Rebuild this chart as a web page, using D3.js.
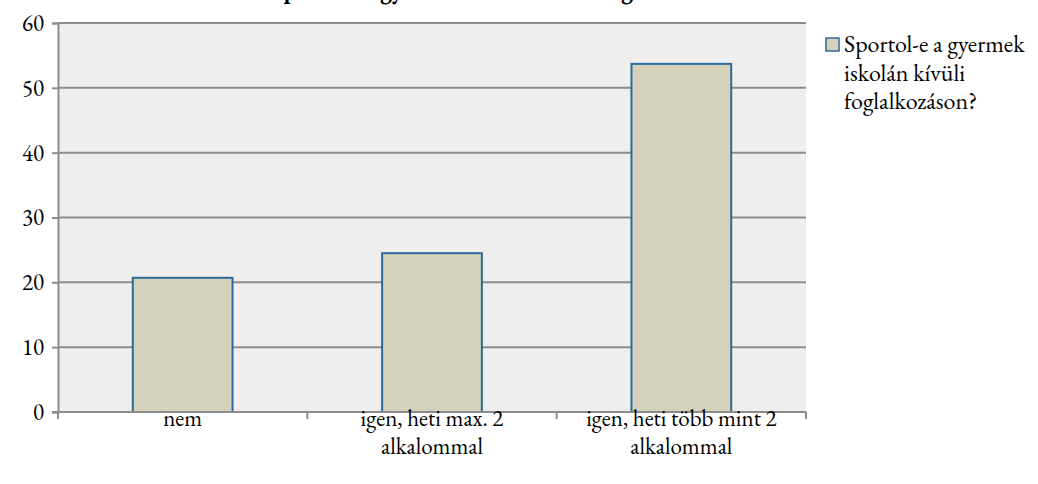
<!DOCTYPE html>
<html>
<head>
<meta charset="utf-8">
<script src="https://cdn.jsdelivr.net/npm/d3@7"></script>
<style>
  body { margin: 0; background: #fff; }
</style>
</head>
<body>
<div class="chart"></div>
<script>
// data
var categories = ["nem", "igen, heti max. 2|alkalommal", "igen, heti több mint 2|alkalommal"];
var values = [20.7, 24.5, 53.7];
var yTicks = [0, 10, 20, 30, 40, 50, 60];
var seriesName = ["Sportol-e a gyermek", "iskolán kívüli", "foglalkozáson?"];
var title = "Sportol-e a gyermek iskolán kívüli foglalkozáson?";

var width = 1038,
    height = 484;

var font = "'EB Garamond', 'Liberation Serif', serif";
var plot = { left: 58, right: 806, top: 23, bottom: 412 };

var svg = d3.select(".chart").append("svg")
  .attr("width", width)
  .attr("height", height);

var x = d3.scaleBand()
  .domain(categories)
  .range([plot.left, plot.right])
  .paddingInner(0.6)
  .paddingOuter(0.3);

var y = d3.scaleLinear()
  .domain([0, 60])
  .range([plot.bottom, plot.top]);

// title, mostly cut off at the top edge (as in the source)
svg.append("text")
  .attr("x", 272)
  .attr("y", -3)
  .attr("textLength", 470)
  .style("font-family", font)
  .style("font-size", "24px")
  .style("font-weight", "bold")
  .text(title);

// plot background
svg.append("rect")
  .attr("x", plot.left)
  .attr("y", plot.top)
  .attr("width", plot.right - plot.left)
  .attr("height", plot.bottom - plot.top)
  .style("fill", "#eeeeee");

// gridlines
svg.selectAll("line.grid")
  .data(yTicks.filter(function(d) { return d > 0; }))
  .enter()
  .append("line")
  .attr("class", "grid")
  .attr("x1", plot.left)
  .attr("x2", plot.right)
  .attr("y1", function(d) { return y(d); })
  .attr("y2", function(d) { return y(d); })
  .style("stroke", "#8c8c8c")
  .style("stroke-width", 2);

// bars
svg.selectAll("rect.bar")
  .data(values)
  .enter()
  .append("rect")
  .attr("class", "bar")
  .attr("x", function(d, i) { return x(categories[i]); })
  .attr("y", function(d) { return y(d); })
  .attr("width", x.bandwidth())
  .attr("height", function(d) { return y(0) - y(d); })
  .style("fill", "#d4d2bb")
  .style("stroke", "#2e6a99")
  .style("stroke-width", 2);

// y axis
var yAxis = svg.append("g")
  .attr("transform", "translate(" + plot.left + ",0)")
  .call(d3.axisLeft(y).tickValues(yTicks).tickSize(6).tickPadding(8));
yAxis.select(".domain").style("stroke", "#8c8c8c").style("stroke-width", 2);
yAxis.selectAll(".tick line").style("stroke", "#8c8c8c").style("stroke-width", 2);
yAxis.selectAll(".tick text")
  .style("font-family", font)
  .style("font-size", "23px")
  .style("fill", "#000");

// x axis line and category boundary ticks
svg.append("line")
  .attr("x1", plot.left - 6)
  .attr("x2", plot.right)
  .attr("y1", plot.bottom)
  .attr("y2", plot.bottom)
  .style("stroke", "#8c8c8c")
  .style("stroke-width", 2);

var bounds = d3.range(categories.length + 1).map(function(i) {
  return plot.left + i * (plot.right - plot.left) / categories.length;
});
svg.selectAll("line.xtick")
  .data(bounds)
  .enter()
  .append("line")
  .attr("class", "xtick")
  .attr("x1", function(d) { return d; })
  .attr("x2", function(d) { return d; })
  .attr("y1", plot.bottom)
  .attr("y2", plot.bottom + 7)
  .style("stroke", "#8c8c8c")
  .style("stroke-width", 2);

// category labels
var labels = svg.selectAll("text.cat")
  .data(categories)
  .enter()
  .append("text")
  .attr("class", "cat")
  .attr("text-anchor", "middle")
  .style("font-family", font)
  .style("font-size", "23px");
labels.each(function(d) {
  var el = d3.select(this);
  var cx = x(d) + x.bandwidth() / 2;
  d.split("|").forEach(function(line, j) {
    el.append("tspan")
      .attr("x", cx)
      .attr("y", 426 + j * 28)
      .text(line);
  });
});

// legend
svg.append("rect")
  .attr("x", 826)
  .attr("y", 38)
  .attr("width", 13)
  .attr("height", 13)
  .style("fill", "#d4d2bb")
  .style("stroke", "#2e6a99")
  .style("stroke-width", 1.5);

svg.selectAll("text.legend")
  .data(seriesName)
  .enter()
  .append("text")
  .attr("class", "legend")
  .attr("x", 844)
  .attr("y", function(d, i) { return 52 + i * 28.5; })
  .style("font-family", font)
  .style("font-size", "24px")
  .text(function(d) { return d; });
</script>
</body>
</html>
